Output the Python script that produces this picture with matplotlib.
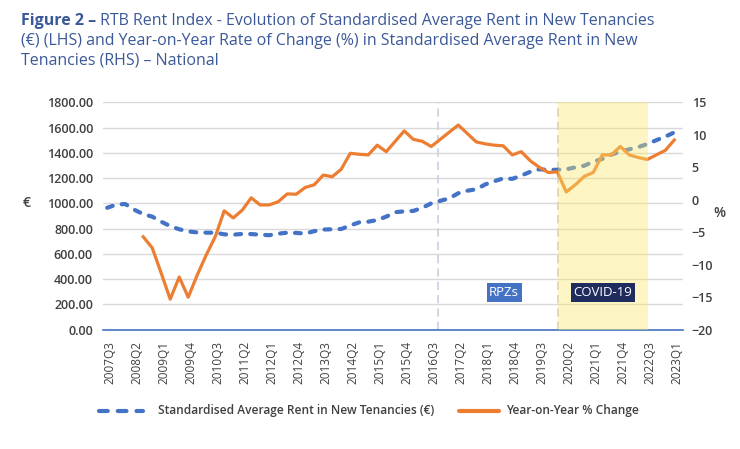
import matplotlib
matplotlib.use('Agg')
import matplotlib.pyplot as plt
import matplotlib.transforms as mtransforms
from matplotlib.lines import Line2D
import numpy as np

# ---------------- data ----------------
x_tick_labels = ['2007Q3', '2008Q2', '2009Q1', '2009Q4', '2010Q3', '2011Q2', '2012Q1',
                 '2012Q4', '2013Q3', '2014Q2', '2015Q1', '2015Q4', '2016Q3', '2017Q2',
                 '2018Q1', '2018Q4', '2019Q3', '2020Q2', '2021Q1', '2021Q4', '2022Q3',
                 '2023Q1']

rent = [965, 990, 995, 950, 915, 895, 855, 820, 795, 778,
        770, 768, 768, 755, 752, 758, 757, 752, 748, 760,
        768, 766, 761, 780, 793, 795, 797, 825, 850, 855,
        868, 895, 930, 937, 940, 965, 1000, 1020, 1040, 1080,
        1100, 1112, 1150, 1175, 1198, 1194, 1220, 1250, 1270, 1265,
        1266, 1270, 1285, 1298, 1330, 1352, 1385, 1410, 1428, 1445,
        1470, 1500, 1528, 1562]

nan = float('nan')
yoy = [nan, nan, nan, nan,
       -5.7, -7.4, -11.3, -15.3, -11.9, -15.0, -11.6, -8.5, -5.7, -1.7,
       -2.8, -1.6, 0.3, -0.8, -0.8, -0.3, 0.9, 0.85, 1.9, 2.3,
       3.8, 3.55, 4.7, 7.15, 7.0, 6.9, 8.4, 7.4, 9.0, 10.6,
       9.3, 9.0, 8.2, 9.3, 10.4, 11.5, 10.2, 8.9, 8.6, 8.4,
       8.3, 6.9, 7.4, 6.0, 5.0, 4.2, 4.3, 1.2, 2.3, 3.6,
       4.2, 6.9, 6.9, 8.2, 6.9, 6.5, 6.2, 6.9, 7.6, 9.2]

rpz_pos = 36.7
covid_start, covid_end = 50.05, 60.1

series_names = ['Standardised Average Rent in New Tenancies (€)', 'Year-on-Year % Change']

# ---------------- style ----------------
FONT = ['Open Sans', 'DejaVu Sans']
plt.rcParams['font.family'] = FONT
BLUE = '#4472C4'
ORANGE = '#ED7D31'
TXT = '#404040'
TITLE_C = '#3b5998'

x = np.arange(len(rent))

fig = plt.figure(figsize=(7.4, 4.49), dpi=100)
L, R, B, T = 102.7 / 740, 683.3 / 740, 1 - 329.7 / 449, 1 - 102.3 / 449
ax = fig.add_axes([L, B, R - L, T - B])
ax2 = ax.twinx()

ax.set_xlim(-0.5, 64.0)
ax.set_ylim(0, 1800)
ax2.set_ylim(-20, 15)

ax.set_yticks(np.arange(0, 1801, 200))
ax.set_yticklabels([f'{v:.2f}' for v in np.arange(0, 1801, 200)])
ax2.set_yticks(np.arange(-20, 16, 5))
ax.grid(axis='y', color='#d9d9d9', lw=1, zorder=0)
ax.set_axisbelow(True)

for s in ['top', 'left', 'right']:
    ax.spines[s].set_visible(False)
for s in ax2.spines.values():
    s.set_visible(False)
ax.spines['bottom'].set_color(BLUE)
ax.spines['bottom'].set_linewidth(1.2)

ax.tick_params(axis='y', length=0, pad=7, labelsize=9, labelcolor=TXT)
ax2.tick_params(axis='y', length=0, pad=6, labelsize=9, labelcolor=TXT)
for lab in ax.get_yticklabels() + ax2.get_yticklabels():
    lab.set_fontweight('semibold')

ax.set_xticks(np.arange(0, 64, 3))
ax.set_xticklabels(x_tick_labels, rotation=90, fontsize=8.5, color=TXT)
ax.tick_params(axis='x', length=0, pad=8)
offset = mtransforms.ScaledTranslation(3 / 100, 0, fig.dpi_scale_trans)
for lab in ax.get_xticklabels():
    lab.set_transform(lab.get_transform() + offset)

# vertical dashed lines
for xv in [rpz_pos, covid_start]:
    ax.axvline(xv, color='#c9d0e2', lw=1.2, ls=(0, (5, 3)), zorder=1)

# lines
ax.plot(x, rent, color=BLUE, lw=3, ls=(0, (1.4, 2.2)), dash_capstyle='round', zorder=3)
ax2.plot(x, yoy, color=ORANGE, lw=2.3, zorder=3)

# covid shading on top
ax2.axvspan(covid_start, covid_end, color='#fbe86a', alpha=0.4, lw=0, zorder=5)

# annotation boxes (on top of shading)
ax2.text(44.1, 294, 'RPZs', color='white', fontsize=9.5, ha='center', va='center',
         transform=ax.transData, zorder=6,
         bbox=dict(boxstyle='square,pad=0.2', fc=BLUE, ec='none'))
ax2.text(55.1, 294, 'COVID-19', color='white', fontsize=9.5, ha='center', va='center',
         transform=ax.transData, zorder=6,
         bbox=dict(boxstyle='square,pad=0.2', fc='#1f2d5e', ec='none'))

# axis unit labels
fig.text(27 / 740, 1 - 203 / 449, '€', fontsize=10, fontweight='semibold', color=TXT,
         ha='center', va='center')
fig.text(719 / 740, 1 - 213 / 449, '%', fontsize=10, fontweight='semibold', color=TXT,
         ha='center', va='center')

# title
TS = 11.5
t1 = fig.text(21 / 740, 1 - 25 / 449, 'Figure 2 –', fontsize=TS, fontweight='bold',
              color=TITLE_C, ha='left', va='baseline')
ax.annotate(' RTB Rent Index - Evolution of Standardised Average Rent in New Tenancies',
            xy=(1, 0), xycoords=t1, fontsize=TS, color=TITLE_C, ha='left', va='bottom',
            annotation_clip=False)
fig.text(21 / 740, 1 - 45 / 449,
         '(€) (LHS) and Year-on-Year Rate of Change (%) in Standardised Average Rent in New',
         fontsize=TS, color=TITLE_C, ha='left', va='baseline')
fig.text(21 / 740, 1 - 64.5 / 449, 'Tenancies (RHS) – National',
         fontsize=TS, color=TITLE_C, ha='left', va='baseline')

# legend (drawn manually in figure coordinates)
ly = 1 - 410.7 / 449
fig.add_artist(Line2D([99 / 740, 143 / 740], [ly, ly], transform=fig.transFigure,
                      color=BLUE, lw=3, ls=(0, (2.1, 2.4)), dash_capstyle='round'))
fig.text(158 / 740, ly, series_names[0], fontsize=8.6, fontweight='semibold', color=TXT,
         ha='left', va='center')
fig.add_artist(Line2D([459 / 740, 499 / 740], [ly, ly], transform=fig.transFigure,
                      color=ORANGE, lw=3, solid_capstyle='round'))
fig.text(506 / 740, ly, series_names[1], fontsize=8.6, fontweight='semibold', color=TXT,
         ha='left', va='center')

fig.savefig('out.png', dpi=100, facecolor='white')
